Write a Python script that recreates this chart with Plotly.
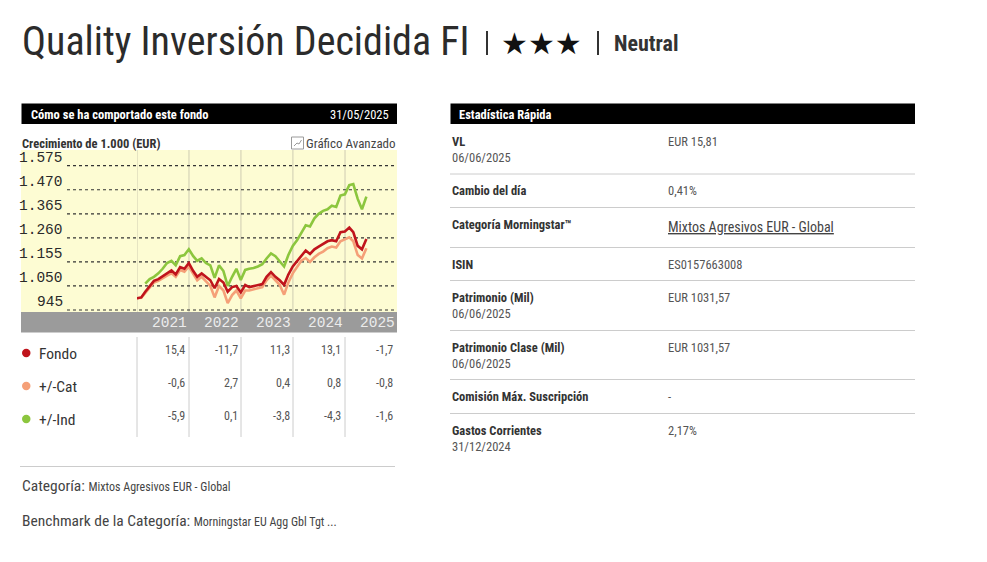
import plotly.graph_objects as go
import pandas as pd

# ---------------- data ----------------
dates = pd.date_range("2020-12-31", periods=54, freq="ME")

fondo = [996, 1000, 1025, 1050, 1072, 1080, 1093, 1105, 1118, 1100, 1132, 1125,
         1150, 1115, 1090, 1105, 1090, 1075, 1040, 1080, 1065, 1025, 1045, 1050,
         1022, 1054, 1045, 1050, 1052, 1058, 1090, 1110, 1090, 1075, 1055, 1100,
         1135, 1160, 1185, 1205, 1190, 1210, 1222, 1232, 1245, 1250, 1245, 1285,
         1288, 1305, 1285, 1225, 1210, 1255]
categoria = [996, 998, 1020, 1045, 1065, 1072, 1085, 1095, 1105, 1090, 1120, 1112,
             1135, 1100, 1075, 1090, 1070, 1050, 1000, 1050, 1030, 975, 1010, 1030,
             996, 1030, 1030, 1035, 1038, 1045, 1075, 1095, 1075, 1055, 1012, 1065,
             1105, 1135, 1160, 1172, 1155, 1175, 1190, 1200, 1215, 1222, 1218, 1245,
             1255, 1262, 1245, 1185, 1170, 1215]
indice = [None, None, 1060, 1080, 1090, 1105, 1125, 1150, 1160, 1140, 1180, 1185,
          1210, 1180, 1160, 1170, 1150, 1140, 1085, 1140, 1115, 1050, 1090, 1125,
          1076, 1120, 1125, 1128, 1135, 1145, 1170, 1192, 1180, 1160, 1135, 1185,
          1225, 1250, 1280, 1315, 1310, 1345, 1365, 1378, 1385, 1400, 1395, 1445,
          1450, 1490, 1495, 1430, 1385, 1440]

y_ticks = [945, 1050, 1155, 1260, 1365, 1470, 1575]
y_tick_labels = ["945", "1.050", "1.155", "1.260", "1.365", "1.470", "1.575"]
years = ["2021", "2022", "2023", "2024", "2025"]
year_starts = ["2021-01-01", "2022-01-01", "2023-01-01", "2024-01-01", "2025-01-01", "2026-01-01"]

table_rows = ["Fondo", "+/-Cat", "+/-Ind"]
table_vals = [["15,4", "-11,7", "11,3", "13,1", "-1,7"],
              ["-0,6", "2,7", "0,4", "0,8", "-0,8"],
              ["-5,9", "0,1", "-3,8", "-4,3", "-1,6"]]

stats_labels = ["VL", "Cambio del día", "Categoría Morningstar™", "ISIN",
                "Patrimonio (Mil)", "Patrimonio Clase (Mil)",
                "Comisión Máx. Suscripción", "Gastos Corrientes"]
stats_dates = ["06/06/2025", "", "", "", "06/06/2025", "06/06/2025", "", "31/12/2024"]
stats_values = ["EUR 15,81", "0,41%", "Mixtos Agresivos EUR - Global", "ES0157663008",
                "EUR 1031,57", "EUR 1031,57", "-", "2,17%"]

# ---------------- style ----------------
W, H = 987, 562
RED, ORANGE, GREEN = "#c0141c", "#f5a078", "#8cc63e"
COND = "Liberation Sans Narrow, Roboto Condensed, Roboto, Arial"
MONO = "Liberation Mono, DejaVu Sans Mono, monospace"


def px(x):
    return x / W


def py(y):
    return 1 - y / H


fig = go.Figure()
for name, vals, col in [("+/-Cat", categoria, ORANGE), ("+/-Ind", indice, GREEN), ("Fondo", fondo, RED)]:
    fig.add_trace(go.Scatter(x=dates, y=vals, mode="lines", name=name,
                             line=dict(color=col, width=2.6), connectgaps=False,
                             showlegend=False, hoverinfo="skip"))

shapes = []
ann = []

# chart background + axis bar
shapes.append(dict(type="rect", xref="paper", yref="paper", x0=px(21), x1=px(397), y0=py(312), y1=py(150),
                   fillcolor="#fdfcd3", line=dict(width=0), layer="below"))
shapes.append(dict(type="rect", xref="paper", yref="paper", x0=px(21), x1=px(397), y0=py(332.5), y1=py(312),
                   fillcolor="#9b9b9b", line=dict(width=0), layer="below"))
for d in year_starts[:-1]:
    shapes.append(dict(type="line", xref="x", yref="paper", x0=d, x1=d, y0=py(312), y1=py(150),
                       line=dict(color="#cfccb2", width=1), layer="below"))
for v, lab in zip(y_ticks, y_tick_labels):
    shapes.append(dict(type="line", xref="paper", yref="y", x0=px(67), x1=px(397), y0=v, y1=v,
                       line=dict(color="#333333", width=1.2, dash="dot"), layer="below"))
    ann.append(dict(xref="paper", yref="y", x=px(64.5), y=v, yshift=8, text=lab, showarrow=False,
                    xanchor="right", yanchor="middle", font=dict(family=MONO, size=14.5, color="#2a2a2a")))
for i, yr in enumerate(years):
    ann.append(dict(xref="x", yref="paper", x=year_starts[i + 1], y=py(322.5), text=yr, showarrow=False,
                    xanchor="right", yanchor="middle", font=dict(family=MONO, size=14.5, color="#ececec")))

# title
ann.append(dict(xref="paper", yref="paper", x=px(20), y=py(42), text="Quality Inversión Decidida FI",
                showarrow=False, xanchor="left", yanchor="middle",
                font=dict(family=COND, size=40, color="#2b2b2b")))
for xx in (487, 598):
    shapes.append(dict(type="line", xref="paper", yref="paper", x0=px(xx), x1=px(xx), y0=py(31), y1=py(55),
                       line=dict(color="#333333", width=2)))
ann.append(dict(xref="paper", yref="paper", x=px(541.5), y=py(43), text="★★★", showarrow=False,
                xanchor="center", yanchor="middle", font=dict(family="DejaVu Sans", size=30, color="#111111")))
ann.append(dict(xref="paper", yref="paper", x=px(612), y=py(43), text="<b>Neutral</b>", showarrow=False,
                xanchor="left", yanchor="middle", font=dict(family=COND, size=22, color="#333333")))

# left header bar
shapes.append(dict(type="rect", xref="paper", yref="paper", x0=px(21.5), x1=px(397), y0=py(124), y1=py(103.5),
                   fillcolor="#000000", line=dict(width=0)))
ann.append(dict(xref="paper", yref="paper", x=px(29), y=py(114), text="<b>Cómo se ha comportado este fondo</b>",
                showarrow=False, xanchor="left", yanchor="middle", font=dict(family=COND, size=12.5, color="white")))
ann.append(dict(xref="paper", yref="paper", x=px(391), y=py(114), text="31/05/2025",
                showarrow=False, xanchor="right", yanchor="middle", font=dict(family=COND, size=12.5, color="white")))
ann.append(dict(xref="paper", yref="paper", x=px(20), y=py(143), text="<b>Crecimiento de 1.000 (EUR)</b>",
                showarrow=False, xanchor="left", yanchor="middle", font=dict(family=COND, size=12.5, color="#333333")))
# small icon
shapes.append(dict(type="rect", xref="paper", yref="paper", x0=px(291.5), x1=px(303.5), y0=py(149), y1=py(137),
                   line=dict(color="#9a9a9a", width=1), fillcolor="white"))
shapes.append(dict(type="path", xref="paper", yref="paper",
                   path=f"M {px(294)} {py(146)} L {px(297)} {py(143)} L {px(299)} {py(144)} L {px(301.5)} {py(140)}",
                   line=dict(color="#9a9a9a", width=1)))
ann.append(dict(xref="paper", yref="paper", x=px(397.5), y=py(143), text="Gráfico Avanzado",
                showarrow=False, xanchor="right", yanchor="middle", font=dict(family=COND, size=13, color="#444444")))

# table
row_y = [353, 386, 419]
dot_cols = [RED, ORANGE, GREEN]
val_right = [187, 239.5, 291.5, 343, 395]
for xx in [137, 189, 241, 293, 345]:
    shapes.append(dict(type="line", xref="paper", yref="paper", x0=px(xx), x1=px(xx), y0=py(337), y1=py(437),
                       line=dict(color="#cccccc", width=1)))
for r, (lab, yy, c) in enumerate(zip(table_rows, row_y, dot_cols)):
    shapes.append(dict(type="circle", xref="paper", yref="paper", x0=px(22), x1=px(30.5), y0=py(yy + 4.2),
                       y1=py(yy - 4.2), fillcolor=c, line=dict(width=0)))
    ann.append(dict(xref="paper", yref="paper", x=px(37), y=py(yy + 1), text=lab, showarrow=False,
                    xanchor="left", yanchor="middle", font=dict(family=COND, size=15.5, color="#333333")))
    for j, v in enumerate(table_vals[r]):
        ann.append(dict(xref="paper", yref="paper", x=px(val_right[j]), y=py(yy - 3), text=v, showarrow=False,
                        xanchor="right", yanchor="middle", font=dict(family=COND, size=12, color="#555555")))

shapes.append(dict(type="line", xref="paper", yref="paper", x0=px(20), x1=px(395), y0=py(466.5), y1=py(466.5),
                   line=dict(color="#cccccc", width=1)))
ann.append(dict(xref="paper", yref="paper", x=px(20), y=py(486), showarrow=False, xanchor="left", yanchor="middle",
                text="Categoría: <span style='font-size:12px'>Mixtos Agresivos EUR - Global</span>",
                font=dict(family=COND, size=15.5, color="#444444")))
ann.append(dict(xref="paper", yref="paper", x=px(20), y=py(521), showarrow=False, xanchor="left", yanchor="middle",
                text="Benchmark de la Categoría: <span style='font-size:12px'>Morningstar EU Agg Gbl Tgt ...</span>",
                font=dict(family=COND, size=15.5, color="#444444")))

# right panel
shapes.append(dict(type="rect", xref="paper", yref="paper", x0=px(450.5), x1=px(915), y0=py(124), y1=py(103.5),
                   fillcolor="#000000", line=dict(width=0)))
ann.append(dict(xref="paper", yref="paper", x=px(457), y=py(114), text="<b>Estadística Rápida</b>",
                showarrow=False, xanchor="left", yanchor="middle", font=dict(family=COND, size=12.5, color="white")))
label_y = [141.5, 190.5, 224.5, 264, 297, 347.5, 396.5, 430.5]
sep_y = [174, 207.5, 247.5, 280.5, 330.5, 379.5, 413.5]
for yy in sep_y:
    shapes.append(dict(type="line", xref="paper", yref="paper", x0=px(450), x1=px(915), y0=py(yy), y1=py(yy),
                       line=dict(color="#cccccc", width=1)))
for lab, dt, val, yy in zip(stats_labels, stats_dates, stats_values, label_y):
    ann.append(dict(xref="paper", yref="paper", x=px(450), y=py(yy), text=f"<b>{lab}</b>", showarrow=False,
                    xanchor="left", yanchor="middle", font=dict(family=COND, size=12.5, color="#333333")))
    if dt:
        ann.append(dict(xref="paper", yref="paper", x=px(450), y=py(yy + 16), text=dt, showarrow=False,
                        xanchor="left", yanchor="middle", font=dict(family=COND, size=12.5, color="#555555")))
    underline = val.startswith("Mixtos")
    ann.append(dict(xref="paper", yref="paper", x=px(666), y=py(yy + (2.5 if underline else 0)), text=val,
                    showarrow=False, xanchor="left", yanchor="middle",
                    font=dict(family=COND, size=14 if underline else 12.5, color="#444444" if underline else "#555555",
                              lineposition="under" if underline else "none")))

fig.update_layout(
    width=W, height=H, margin=dict(l=0, r=0, t=0, b=0, pad=0),
    paper_bgcolor="white", plot_bgcolor="rgba(0,0,0,0)",
    xaxis=dict(domain=[px(137), px(397)], range=["2021-01-01", "2026-01-01"], type="date",
               showgrid=False, showticklabels=False, zeroline=False, showline=False, ticks=""),
    yaxis=dict(domain=[py(312), py(150)], range=[936.3, 1643.6], showgrid=False,
               showticklabels=False, zeroline=False, showline=False, ticks=""),
    shapes=shapes, annotations=ann, showlegend=False,
)

fig.write_html("out.html")
